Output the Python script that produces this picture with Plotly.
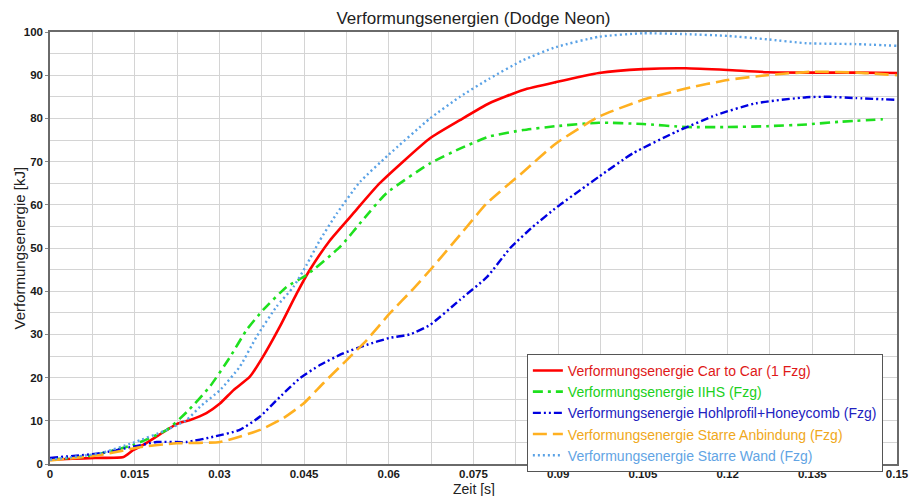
import plotly.graph_objects as go

# Verformungsenergie über der Zeit, fünf Versuchskonfigurationen
t_c2c = [0, 0.004, 0.008, 0.013, 0.0147, 0.0165, 0.0207, 0.0225, 0.0248, 0.0277, 0.0301,
         0.0325, 0.0354, 0.0377, 0.0407, 0.0437, 0.046, 0.0496, 0.0537, 0.0584, 0.0673,
         0.0726, 0.0778, 0.0838, 0.0896, 0.0972, 0.105, 0.1126, 0.120, 0.127, 0.135, 0.143, 0.150]
e_c2c = [1.0, 1.2, 1.4, 1.6, 3.2, 4.4, 7.9, 9.3, 10.2, 11.8, 14.0,
         17.1, 20.2, 24.8, 31.8, 39.5, 44.9, 51.8, 58.0, 65.0, 75.4,
         79.6, 83.5, 86.6, 88.4, 90.5, 91.4, 91.6, 91.2, 90.7, 90.6, 90.6, 90.5]

t_iihs = [0, 0.0076, 0.0147, 0.0207, 0.0242, 0.0283, 0.0319, 0.0348, 0.0377, 0.0419,
          0.0454, 0.0514, 0.0554, 0.0596, 0.0673, 0.0726, 0.0778, 0.0838, 0.0896,
          0.0972, 0.105, 0.1126, 0.120, 0.127, 0.134, 0.1397, 0.1475]
e_iihs = [1.0, 2.0, 4.4, 7.9, 12.0, 17.9, 24.8, 31.0, 35.6, 41.0,
          43.7, 50.3, 56.5, 62.7, 69.6, 73.0, 75.8, 77.3, 78.2,
          79.0, 78.7, 78.0, 78.0, 78.2, 78.6, 79.2, 79.8]

t_hohl = [0, 0.0089, 0.0147, 0.0189, 0.0242, 0.0289, 0.0336, 0.0372, 0.0407, 0.0443,
          0.0478, 0.0519, 0.0561, 0.0602, 0.0637, 0.0673, 0.0726, 0.0774, 0.0815, 0.0855,
          0.0898, 0.0939, 0.0972, 0.1032, 0.1109, 0.118, 0.125, 0.134, 0.138, 0.1427, 0.150]
e_hohl = [1.4, 2.5, 4.0, 5.1, 5.1, 6.3, 7.9, 11.0, 15.5, 19.9,
          22.9, 25.6, 27.6, 29.2, 30.0, 32.2, 38.0, 43.3, 50.0, 54.9,
          59.5, 63.4, 66.5, 71.9, 76.9, 80.8, 83.5, 84.9, 85.0, 84.7, 84.3]

t_anb = [0, 0.0089, 0.0165, 0.0225, 0.0301, 0.0372, 0.0413, 0.0449, 0.0484, 0.0525,
         0.0561, 0.0602, 0.0643, 0.0678, 0.0726, 0.0774, 0.0838, 0.0896, 0.0972, 0.105,
         0.1126, 0.120, 0.127, 0.135, 0.143, 0.150]
e_anb = [0.8, 2.1, 4.0, 4.8, 5.1, 7.9, 10.6, 14.0, 18.7, 24.0,
         28.7, 34.9, 40.5, 45.6, 53.0, 60.4, 67.6, 74.2, 80.4, 84.3,
         86.9, 88.9, 90.0, 90.8, 90.6, 90.0]

t_wand = [0, 0.0089, 0.0147, 0.0207, 0.0242, 0.0266, 0.0301, 0.0336, 0.0366, 0.0401,
          0.0431, 0.0454, 0.0478, 0.0508, 0.0549, 0.0599, 0.0673, 0.0726, 0.0778, 0.0838,
          0.0896, 0.0972, 0.105, 0.1126, 0.120, 0.127, 0.134, 0.1427, 0.150]
e_wand = [1.0, 2.5, 4.9, 7.9, 10.2, 13.3, 17.1, 22.5, 29.5, 36.4,
          41.0, 46.0, 51.8, 58.0, 65.3, 71.5, 80.0, 85.0, 89.2, 93.5,
          96.5, 98.9, 99.7, 99.5, 99.1, 98.3, 97.4, 97.2, 96.8]

series = [
    ("Verformungsenergie Car to Car (1 Fzg)", t_c2c, e_c2c, "#ff0000", "#e01818", "solid", 2.6),
    ("Verformungsenergie IIHS (Fzg)", t_iihs, e_iihs, "#1ee01e", "#20d020", "10px,5px,3px,5px", 2.6),
    ("Verformungsenergie Hohlprofil+Honeycomb (Fzg)", t_hohl, e_hohl, "#0000e0", "#2222c0", "8px,3px,2px,3px,2px,3px", 2.4),
    ("Verformungsenergie Starre Anbindung (Fzg)", t_anb, e_anb, "#ffb020", "#f0a820", "14px,6px", 2.6),
    ("Verformungsenergie Starre Wand (Fzg)", t_wand, e_wand, "#5aa2e6", "#62a4e4", "2px,3px", 2.4),
]

fig = go.Figure()
for name, t, e, col, tcol, dash, w in series:
    fig.add_trace(go.Scatter(
        x=t, y=e, mode="lines",
        name=f"<span style='color:{tcol}'>{name}</span>",
        line=dict(color=col, width=w, dash=dash, shape="spline", smoothing=0.5),
    ))

FONT = "Liberation Sans, Arial"
axis_common = dict(
    showline=True, linecolor="#6a6a6a", linewidth=1.5, mirror=True,
    gridcolor="#d4d4d4", gridwidth=1, zeroline=False,
    tickfont=dict(family=FONT, size=11.5, color="#1a1a1a", weight="bold"),
)

fig.update_layout(
    width=912, height=496,
    margin=dict(l=50, r=15, t=32, b=32),
    paper_bgcolor="white", plot_bgcolor="white",
    font=dict(family=FONT, color="#222222"),
    title=dict(text="Verformungsenergien (Dodge Neon)", xref="paper", x=0.5, xanchor="center",
               y=1 - 18 / 496, yanchor="middle",
               font=dict(size=17, color="#222222")),
    showlegend=True,
    legend=dict(x=0.563, y=0.255, xanchor="left", yanchor="top",
                bgcolor="white", bordercolor="#555555", borderwidth=1,
                font=dict(size=14), tracegroupgap=0, itemwidth=30),
    annotations=[
        dict(text="Zeit [s]", xref="paper", yref="paper", x=0.5, y=(464 - 488.5) / 432,
             xanchor="center", yanchor="middle", showarrow=False,
             font=dict(size=14, color="#222222")),
        dict(text="Verformungsenergie [kJ]", xref="paper", yref="paper",
             x=(18.5 - 50) / 847, y=0.5, xanchor="center", yanchor="middle",
             textangle=-90, showarrow=False, font=dict(size=15, color="#222222")),
    ],
)

fig.update_xaxes(range=[0, 0.15], dtick=0.015, tick0=0, ticks="", ticklabelstandoff=-2,
                 minor=dict(dtick=0.0075, showgrid=True, gridcolor="#d4d4d4"),
                 automargin=False, **axis_common)
fig.update_yaxes(range=[0, 100], dtick=10, tick0=0,
                 ticks="outside", ticklen=3, tickcolor="#888888",
                 minor=dict(dtick=5, showgrid=True, gridcolor="#d4d4d4"),
                 automargin=False, **axis_common)

fig.write_html("out.html")
